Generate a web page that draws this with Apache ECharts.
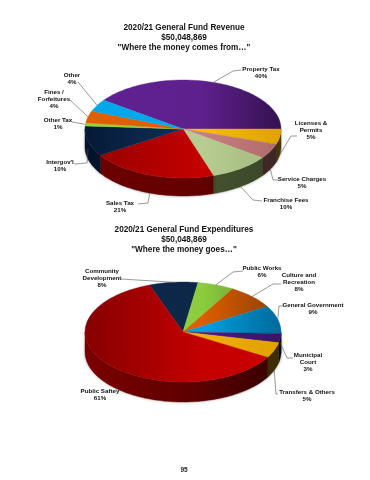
<!DOCTYPE html>
<html>
<head>
<meta charset="utf-8">
<style>
html,body{margin:0;padding:0;background:#fff;}
#chart{width:370px;height:480px;filter:blur(0.35px);}
</style>
<script src="https://cdn.jsdelivr.net/npm/echarts@6/dist/echarts.min.js"></script>
</head>
<body>
<div id="chart"></div>
<script>
// ---- data ----
var revenueCategories = ['Property Tax','Licenses &\nPermits','Service Charges','Franchise Fees','Sales Tax','Intergov\'l','Other Tax','Fines /\nForfeitures','Other'];
var revenueValues = [40,5,5,10,21,10,1,4,4];
var expenseCategories = ['Community\nDevelopment','Public Works','Culture and\nRecreation','General Government','Municipal\nCourt','Transfers & Others','Public Saftey'];
var expenseValues = [8,6,8,9,3,5,61];

// ---- styling and layout ----
var revenueColors = [
  ['#5f2293','#5e208c','#33124f'],['#f0b400','#f5bf00','#e0a200'],['#c47c7c','#c87f7f','#b06a6a'],
  ['#b4c98e','#b6cc90','#a3b87e'],['#940000','#c40000','#c80000'],['#061a36','#12325f','#12325f'],
  ['#9ccf3c','#9ccf3c','#9ccf3c'],['#e06000','#e06000','#c05000'],['#00a8ea','#00a8ea','#00a0e0']
];
var revenueWalls = [
  ['#2a0f45','#2a0f45','#1c0a30'],['#7a5c00','#6b5000','#4a3800'],['#5a3535','#52302f','#3e2626'],
  ['#46543a','#45532f','#3a4628'],['#6e0000','#620000','#4a0000'],['#03122a','#071d3a','#071d3a'],
  ['#4a6a1c','#4a6a1c','#4a6a1c'],['#6a3000','#6a3000','#6a3000'],['#005070','#005070','#005070']
];
var expenseColors = [
  ['#0c2748','#0c2748','#12325f'],['#93d244','#8ccc3e','#5a8a30'],['#e06000','#dc5e00','#8c3e00'],
  ['#00a6e6','#00a0e0','#00699a'],['#4a1a80','#4a1a80','#3a1564'],['#f0b000','#f0b000','#e0a000'],
  ['#860000','#c40000','#c80000']
];
var expenseWalls = [
  ['#0c2748','#0c2748','#0c2748'],['#4a6a1c','#4a6a1c','#4a6a1c'],['#6a3000','#6a3000','#6a3000'],
  ['#003850','#003850','#003850'],['#14062a','#14062a','#0c0418'],['#6a4c00','#5a4000','#3a2c00'],
  ['#7c0000','#5a0000','#360000']
];
var revenueLayout = {
  cx:183, cy:129, rx:98, ry:49, depth:18, start:-54, colors:revenueColors, walls:revenueWalls,
  labels:[[261,66],[311,120],[302,176],[286,197],[120,200],[60,159],[58,117],[54,89],[72,72]],
  leaders:[[[241,70],[233,71]],[[297,136],[291,136]],[[278,180],[273,180]],[[262,201],[253,200]],[[138,204],[148,203]],[[74,164],[87,163]],[[72,122],[72,122]],[[70,100],[70,100]],[[78,82],[78,82]]],
  ends:[0,1,1,1,1,0.4,0,0,0]
};
var expenseLayout = {
  cx:183, cy:332, rx:98, ry:50, depth:20, start:-20, colors:expenseColors, walls:expenseWalls,
  labels:[[102,268],[262,265],[299,272],[313,302],[308,352],[307,389],[100,388]],
  leaders:[[[121,279],[121,279]],[[243,271],[233,272]],[[281,284],[273,284]],[[283,306],[279,306]],[[293,358],[287,358]],[[278,394],[276,394]],null],
  ends:[0,0,0,0,0.25,1,0]
};

function pt(l, deg, drop){
  var a = deg*Math.PI/180;
  return [l.cx + l.rx*Math.sin(a), l.cy - l.ry*Math.cos(a) + (drop||0)];
}
function arc(l, a0, a1, drop){
  var out = [], n = Math.max(2, Math.ceil(Math.abs(a1-a0)/1.5));
  for (var i=0;i<=n;i++) out.push(pt(l, a0+(a1-a0)*i/n, drop));
  return out;
}
function grad(l, c){
  return {type:'linear', global:true, x:l.cx-l.rx, y:0, x2:l.cx+l.rx, y2:0,
    colorStops:[{offset:0,color:c[0]},{offset:0.6,color:c[1]},{offset:1,color:c[2]}]};
}
function pieRenderer(values, names, l){
  var total = values.reduce(function(s,v){return s+v;},0);
  return function(params, api){
    var i = params.dataIndex, before = 0;
    for (var k=0;k<i;k++) before += values[k];
    var a0 = l.start + before/total*360;
    var a1 = a0 + api.value(0)/total*360;
    var mid = (a0+a1)/2;
    var kids = [];
    // side wall: only the part of the slice on the front half of the ellipse
    [[90,270],[450,630]].forEach(function(w){
      var s = Math.max(a0,w[0]), e = Math.min(a1,w[1]);
      if (e > s){
        var pts = arc(l,s,e,0).concat(arc(l,e,s,l.depth));
        kids.push({type:'polygon', z2:1, shape:{points:pts},
          style:{fill:grad(l,l.walls[i]), stroke:grad(l,l.walls[i]), lineWidth:0.4,
                 shadowBlur:3, shadowColor:'rgba(0,0,0,0.3)'}});
      }
    });
    // top face
    var top = [[l.cx,l.cy]].concat(arc(l,a0,a1,0));
    kids.push({type:'polygon', z2:2, shape:{points:top},
      style:{fill:grad(l,l.colors[i]), stroke:grad(l,l.colors[i]), lineWidth:0.4}});
    // leader line
    if (l.leaders[i]){
      var end = pt(l, mid, l.ends[i]*l.depth);
      kids.push({type:'polyline', z2:3, shape:{points:l.leaders[i].concat([end])},
        style:{fill:null, stroke:'#555', lineWidth:0.6}});
    }
    // label
    kids.push({type:'text', z2:4, style:{
      x:l.labels[i][0], y:l.labels[i][1], text:names[i]+'\n'+api.value(0)+'%',
      align:'center', verticalAlign:'top', fill:'#111',
      font:'bold 6.2px "Liberation Sans", Arial, sans-serif', lineHeight:7}});
    return {type:'group', children:kids};
  };
}

var chart = echarts.init(document.getElementById('chart'), null, {renderer:'canvas'});
var titleStyle = {fontFamily:'"Liberation Sans", Arial, sans-serif', fontWeight:'bold', fontSize:8.2, lineHeight:10, color:'#111', align:'center'};
chart.setOption({
  animation:false,
  backgroundColor:'#fff',
  title:[
    {text:'2020/21 General Fund Revenue\n$50,048,869\n"Where the money comes from…"', left:184, top:23, textAlign:'center', textStyle:titleStyle, padding:0},
    {text:'2020/21 General Fund Expenditures\n$50,048,869\n"Where the money goes…"', left:184, top:225, textAlign:'center', textStyle:titleStyle, padding:0},
    {text:'95', left:184, top:467, textAlign:'center', padding:0, textStyle:{fontFamily:'"Liberation Sans", Arial, sans-serif', fontSize:6.5, color:'#222'}}
  ],
  series:[
    {type:'custom', name:'Revenue', coordinateSystem:'none', silent:true, clip:false,
     data:revenueValues.map(function(v){return [v];}),
     renderItem:pieRenderer(revenueValues, revenueCategories, revenueLayout)},
    {type:'custom', name:'Expenditures', coordinateSystem:'none', silent:true, clip:false,
     data:expenseValues.map(function(v){return [v];}),
     renderItem:pieRenderer(expenseValues, expenseCategories, expenseLayout)}
  ]
});
</script>
</body>
</html>
